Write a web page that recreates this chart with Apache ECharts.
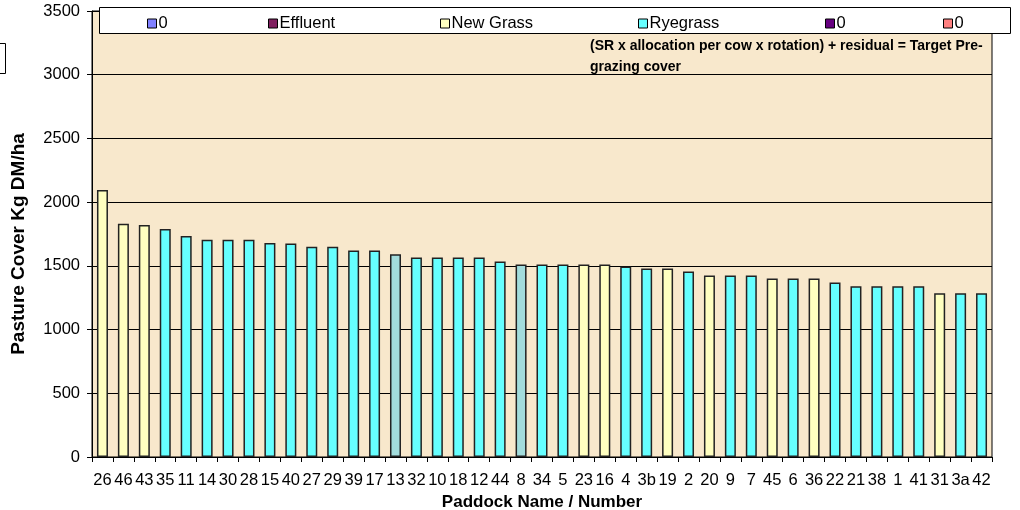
<!DOCTYPE html>
<html>
<head>
<meta charset="utf-8">
<script src="https://cdn.jsdelivr.net/npm/echarts@6/dist/echarts.min.js"></script>
<style>
  html, body { margin: 0; padding: 0; background: #fff; }
  #chart { width: 1020px; height: 510px; }
</style>
</head>
<body>
<div id="chart"></div>
<script>
// paddocks, sorted by pasture cover
const paddocks = ['26','46','43','35','11','14','30','28','15','40','27','29','39','17','13','32','10','18','12','44','8','34','5','23','16','4','3b','19','2','20','9','7','45','6','36','22','21','38','1','41','31','3a','42']
const covers = [2095,1830,1820,1790,1735,1705,1705,1705,1680,1675,1650,1650,1620,1620,1592,1565,1565,1565,1565,1535,1510,1510,1510,1510,1510,1495,1480,1480,1455,1425,1425,1425,1400,1400,1400,1370,1340,1340,1340,1340,1285,1285,1285]
const N = 'New Grass', R = 'Ryegrass', O = 'Other'
const pastureTypes = [N,N,N,R,R,R,R,R,R,R,R,R,R,R,O,R,R,R,R,R,O,R,R,N,N,R,R,N,R,N,R,R,N,R,N,R,R,R,R,R,N,R,R]
const yTicks = [0, 500, 1000, 1500, 2000, 2500, 3000, 3500]

// legend entries (three of them are called "0")
const legendNames = ['0#1', 'Effluent', 'New Grass', 'Ryegrass', '0#2', '0#3']
const legendLeft = [147, 268, 440, 638, 825, 943]
const colors = {
  '0#1': '#8080FF',
  'Effluent': '#802060',
  'New Grass': '#FFFFC0',
  'Ryegrass': '#66FFFF',
  '0#2': '#660080',
  '0#3': '#FF8080',
  'Other': '#A2DCDC'
}

const font = "'Liberation Sans', Arial, sans-serif"

const chart = echarts.init(document.getElementById('chart'))

const seriesNames = legendNames.concat(['Other'])
const series = seriesNames.map(name => ({
  name: name,
  type: 'bar',
  stack: 'cover',
  barWidth: 11,
  data: covers.map((v, i) => (pastureTypes[i] === name ? v : '-')),
  itemStyle: {
    color: colors[name],
    borderColor: '#222',
    borderWidth: 1.5
  }
}))

const option = {
  animation: false,
  textStyle: { fontFamily: font },
  grid: {
    left: 92, right: 28, top: 11, bottom: 53,
    containLabel: false,
    outerBoundsMode: 'none',
    show: true,
    backgroundColor: '#F8E8CC',
    borderColor: '#000',
    borderWidth: 1
  },
  legend: legendNames.map((name, i) => ({
    data: [name],
    left: legendLeft[i],
    top: 15,
    padding: 0,
    itemWidth: 9,
    itemHeight: 9,
    icon: 'rect',
    itemStyle: { borderColor: '#000', borderWidth: 1 },
    formatter: n => n.replace(/#\d$/, ''),
    textStyle: { fontFamily: font, fontSize: 16.5, color: '#000', padding: [0, 0, 0, -3] },
    selectedMode: false
  })),
  graphic: [
    {
      type: 'rect',
      z: 3,
      shape: { x: 99.5, y: 7.5, width: 911, height: 26 },
      style: { fill: '#fff', stroke: '#000', lineWidth: 1 }
    },
    {
      type: 'rect',
      shape: { x: -1, y: 43.5, width: 6.5, height: 30 },
      style: { fill: '#fff', stroke: '#000', lineWidth: 1 }
    },
    {
      type: 'text',
      z: 3,
      left: 590,
      top: 36,
      style: {
        text: '(SR x allocation per cow x rotation) + residual = Target Pre-\ngrazing cover',
        font: "bold 14px 'Liberation Sans', Arial, sans-serif",
        lineHeight: 21,
        fill: '#000'
      }
    },
    {
      // y axis title, centred a little below the plot middle as in the original
      type: 'text',
      x: 19,
      y: 244,
      rotation: Math.PI / 2,
      style: {
        text: 'Pasture Cover Kg DM/ha',
        font: "bold 19px 'Liberation Sans', Arial, sans-serif",
        align: 'center',
        verticalAlign: 'middle',
        fill: '#000'
      }
    }
  ],
  xAxis: {
    type: 'category',
    data: paddocks,
    name: 'Paddock Name / Number',
    nameLocation: 'middle',
    nameGap: 32,
    nameTextStyle: { fontFamily: font, fontSize: 17, fontWeight: 'bold', color: '#000' },
    axisLine: { lineStyle: { color: '#000', width: 1 } },
    axisTick: { show: true, length: 5, lineStyle: { color: '#000' } },
    axisLabel: { interval: 0, margin: 15, fontSize: 16.5, color: '#000', fontFamily: font },
    splitLine: { show: false }
  },
  yAxis: {
    type: 'value',
    min: yTicks[0],
    max: yTicks[yTicks.length - 1],
    interval: yTicks[1] - yTicks[0],
    axisLine: { show: true, lineStyle: { color: '#000', width: 1 } },
    axisTick: { show: true, length: 5, lineStyle: { color: '#000' } },
    axisLabel: { margin: 12, fontSize: 16.5, color: '#000', fontFamily: font, formatter: v => String(v) },
    splitLine: { show: true, lineStyle: { color: '#000', width: 1 } }
  },
  series: series
}

chart.setOption(option)
</script>
</body>
</html>
